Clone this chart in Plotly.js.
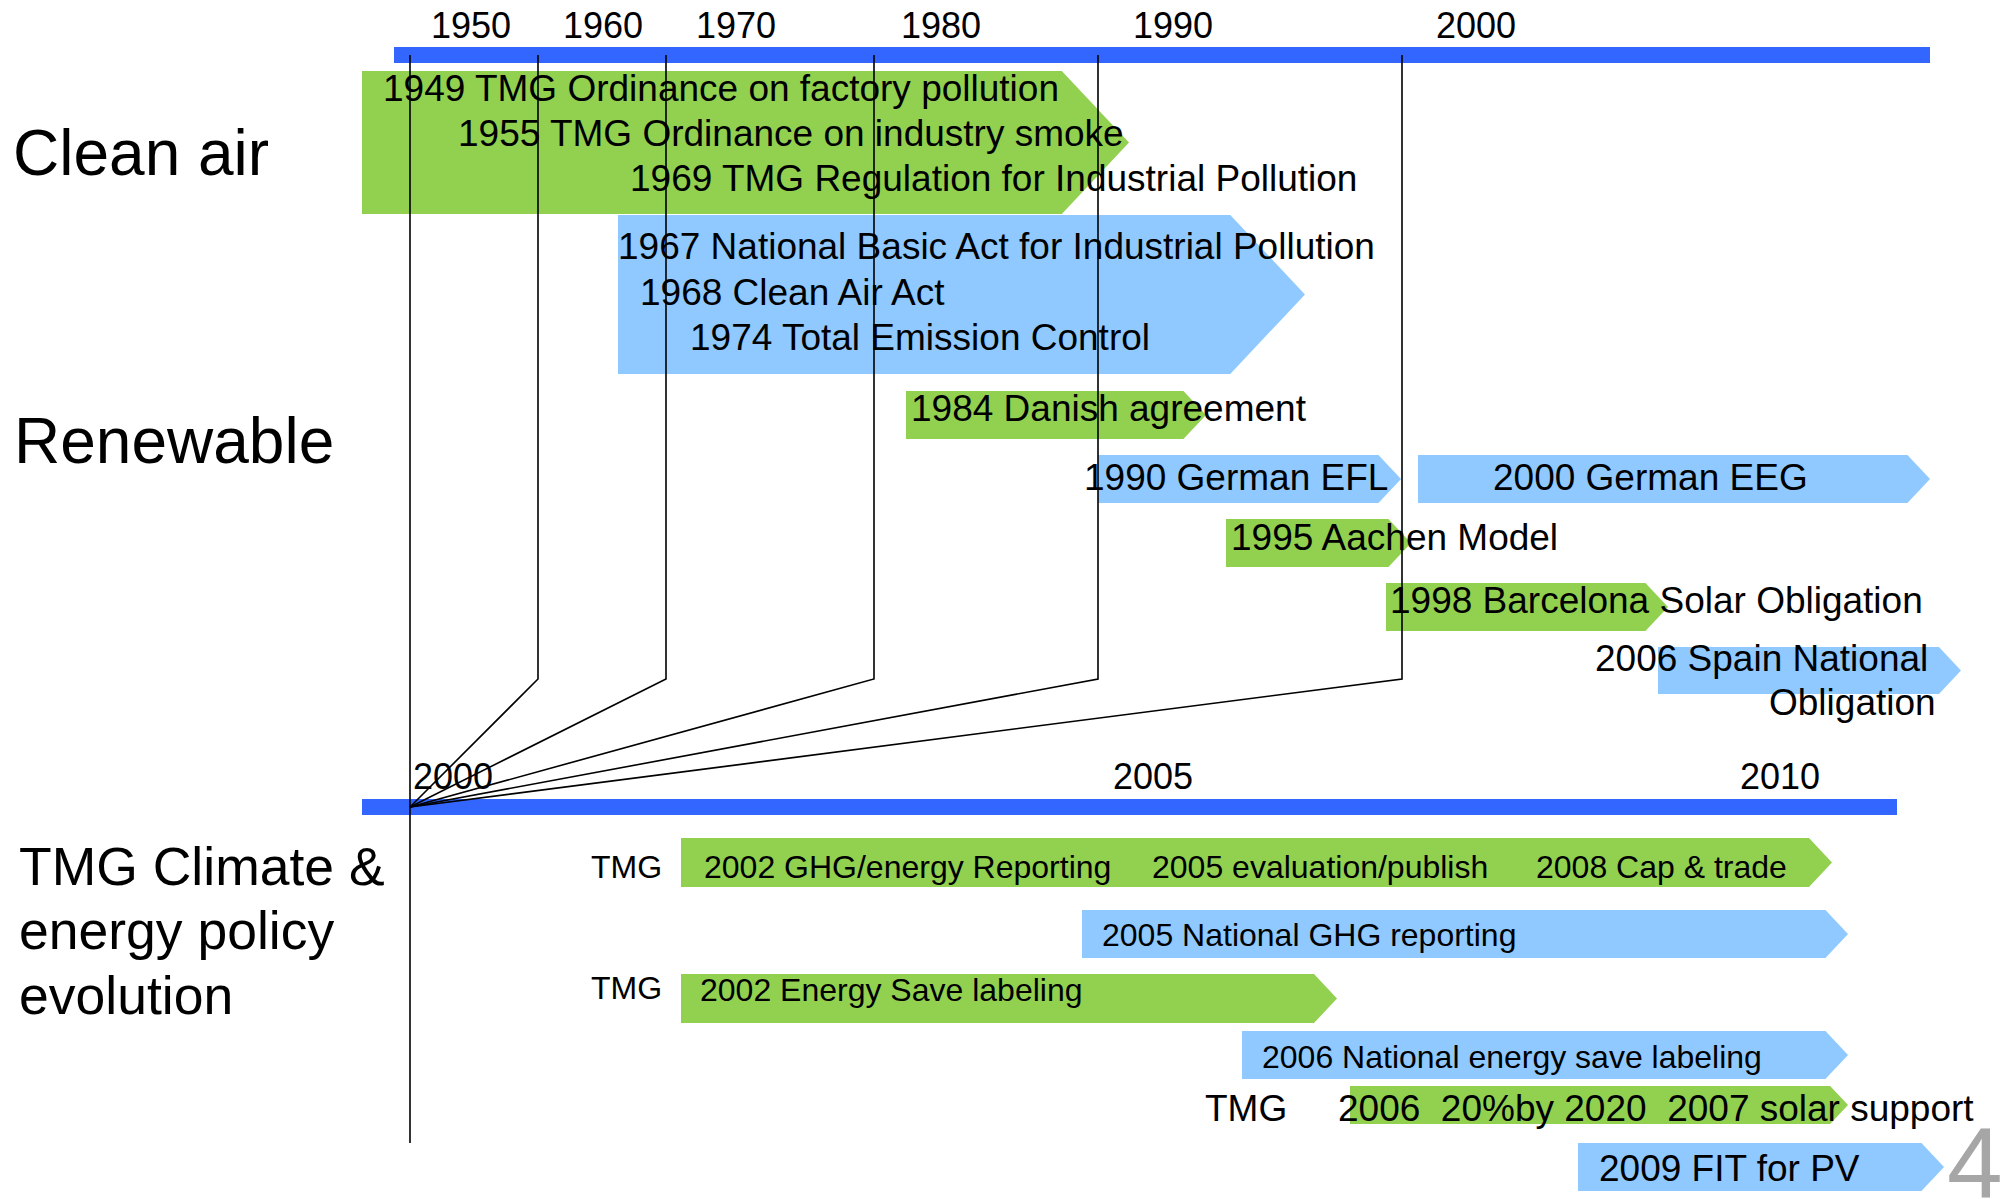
<!DOCTYPE html>
<html>
<head>
<meta charset="utf-8">
<script src="https://cdn.plot.ly/plotly-3.0.1.min.js"></script>
<style>html,body{margin:0;padding:0;background:#fff;}#chart{width:2012px;height:1199px;}</style>
</head>
<body>
<div id="chart"></div>
<script>
// ---------- DATA (diagram units) ----------
// Upper (historic) timeline tick labels and their positions
const topTickYears = ['1950', '1960', '1970', '1980', '1990', '2000'];
const topTickX = [471, 603, 736, 941, 1173, 1476];
// Lower (2000-2010) timeline tick labels and their positions
const bottomTickYears = ['2000', '2005', '2010'];
const bottomTickX = [453, 1153, 1780];

// Leader lines: marks on the upper timeline that funnel into the year 2000 point
const leaderX = [538, 666, 874, 1098, 1402];
const anchorX = 410;

// Policy arrows: kind (local/city = green, national = blue), start, tip, top, bottom
const arrowKind   = ['local', 'national', 'local', 'national', 'national', 'local', 'local', 'national',
                     'local', 'national', 'local', 'national', 'local', 'national'];
const arrowStart  = [362, 618, 906, 1098, 1418, 1226, 1386, 1658, 681, 1082, 681, 1242, 1350, 1578];
const arrowTip    = [1129, 1305, 1206, 1401, 1930, 1411, 1668, 1961, 1832, 1848, 1337, 1848, 1848, 1944];
const arrowTop    = [71, 215, 391, 455, 455, 519, 583, 647, 838, 910, 974, 1031, 1086, 1143];
const arrowBottom = [214, 374, 439, 503, 503, 567, 631, 694, 887, 958, 1023, 1079, 1124, 1191];

// Event labels
const eventText = [
  '1949 TMG Ordinance on factory pollution',
  '1955 TMG Ordinance on industry smoke',
  '1969 TMG Regulation for Industrial Pollution',
  '1967 National Basic Act for Industrial Pollution',
  '1968 Clean Air Act',
  '1974 Total Emission Control',
  '1984 Danish agreement',
  '1990 German EFL',
  '2000 German EEG',
  '1995 Aachen Model',
  '1998 Barcelona Solar Obligation',
  '2006 Spain National',
  'Obligation',
  'TMG',
  '2002 GHG/energy Reporting',
  '2005 evaluation/publish',
  '2008 Cap & trade',
  '2005 National GHG reporting',
  'TMG',
  '2002 Energy Save labeling',
  '2006 National energy save labeling',
  'TMG',
  '2006\u00a0\u00a020%by 2020\u00a0\u00a02007 solar support',
  '2009 FIT for PV'
];
const eventX = [382, 457, 629, 617, 639, 689, 910, 1083, 1492, 1230, 1389, 1929, 1937,
                590, 703, 1151, 1535, 1101, 590, 699, 1261, 1204, 1337, 1598];
const eventY = [88, 133, 178, 246, 292, 337, 408, 477, 477, 537, 600, 658, 702,
                867, 867, 867, 867, 935, 988, 990, 1057, 1108, 1108, 1168];
const eventAlign = ['left','left','left','left','left','left','left','left','left','left','left','right','right',
                    'left','left','left','left','left','left','left','left','left','left','left'];
const eventSize = [37,37,37,37,37,37,37,37,37,37,37,37,37, 32,32,32,32,32,32,32,32, 37,37,37];

// Section headings
const sectionText = ['Clean air', 'Renewable', 'TMG Climate &', 'energy policy', 'evolution'];
const sectionX = [12, 13, 18, 18, 18];
const sectionY = [153, 441, 866, 930, 995];
const sectionSize = [64, 64, 53.5, 53.5, 53.5];

const pageNumber = '4';

// ---------- STYLE ----------
const COLORS = {local: '#92D050', national: '#8FC9FF', bar: '#3366FF'};
const FONT = 'Liberation Sans, Arial, Helvetica, sans-serif';

const traces = [];

// timeline bars
function bar(x0, x1, y0, y1) {
  traces.push({x: [x0, x1, x1, x0, x0], y: [y0, y0, y1, y1, y0], type: 'scatter', mode: 'lines',
    fill: 'toself', fillcolor: COLORS.bar, line: {width: 0, color: COLORS.bar}, hoverinfo: 'skip'});
}

// arrows
for (let i = 0; i < arrowStart.length; i++) {
  const t = arrowTop[i], b = arrowBottom[i], m = (t + b) / 2;
  const depth = (b - t) * 0.47;
  const xe = arrowTip[i] - depth;
  traces.push({
    x: [arrowStart[i], xe, arrowTip[i], xe, arrowStart[i], arrowStart[i]],
    y: [t, t, m, b, b, t],
    type: 'scatter', mode: 'lines', fill: 'toself',
    fillcolor: COLORS[arrowKind[i]], line: {width: 0, color: COLORS[arrowKind[i]]}, hoverinfo: 'skip'
  });
}

bar(394, 1930, 47, 63);
bar(362, 1897, 799, 815);

// leader lines
const yTopLine = 55, yBend = 679, yAnchor = 807, yEnd = 1143;
traces.push({x: [anchorX, anchorX], y: [yTopLine, yEnd], type: 'scatter', mode: 'lines',
  line: {color: '#000', width: 1.6}, hoverinfo: 'skip'});
leaderX.forEach(x => {
  traces.push({x: [x, x, anchorX], y: [yTopLine, yBend, yAnchor], type: 'scatter', mode: 'lines',
    line: {color: '#000', width: 1.6}, hoverinfo: 'skip'});
});

const annotations = [];
topTickYears.forEach((t, i) => annotations.push({x: topTickX[i], y: 25, text: t, xanchor: 'center', yanchor: 'middle',
  showarrow: false, font: {family: FONT, size: 36, color: '#000'}}));
bottomTickYears.forEach((t, i) => annotations.push({x: bottomTickX[i], y: 776, text: t, xanchor: 'center', yanchor: 'middle',
  showarrow: false, font: {family: FONT, size: 36, color: '#000'}}));
eventText.forEach((t, i) => annotations.push({x: eventX[i], y: eventY[i], text: t, xanchor: eventAlign[i], yanchor: 'middle',
  showarrow: false, borderpad: 0, font: {family: FONT, size: eventSize[i], color: '#000'}}));
sectionText.forEach((t, i) => annotations.push({x: sectionX[i], y: sectionY[i], text: t, xanchor: 'left', yanchor: 'middle',
  showarrow: false, borderpad: 0, font: {family: FONT, size: sectionSize[i], color: '#000'}}));
annotations.push({x: 1946, y: 1106, text: pageNumber, xanchor: 'left', yanchor: 'top', showarrow: false, borderpad: 0,
  font: {family: FONT, size: 100, color: '#A6A6A6'}});

const layout = {
  width: 2012, height: 1199,
  margin: {l: 0, r: 0, t: 0, b: 0, pad: 0},
  paper_bgcolor: '#fff', plot_bgcolor: '#fff',
  showlegend: false,
  xaxis: {range: [0, 2012], visible: false, fixedrange: true},
  yaxis: {range: [1199, 0], visible: false, fixedrange: true},
  annotations: annotations
};

Plotly.newPlot('chart', traces, layout, {displayModeBar: false, staticPlot: true});
</script>
</body>
</html>
